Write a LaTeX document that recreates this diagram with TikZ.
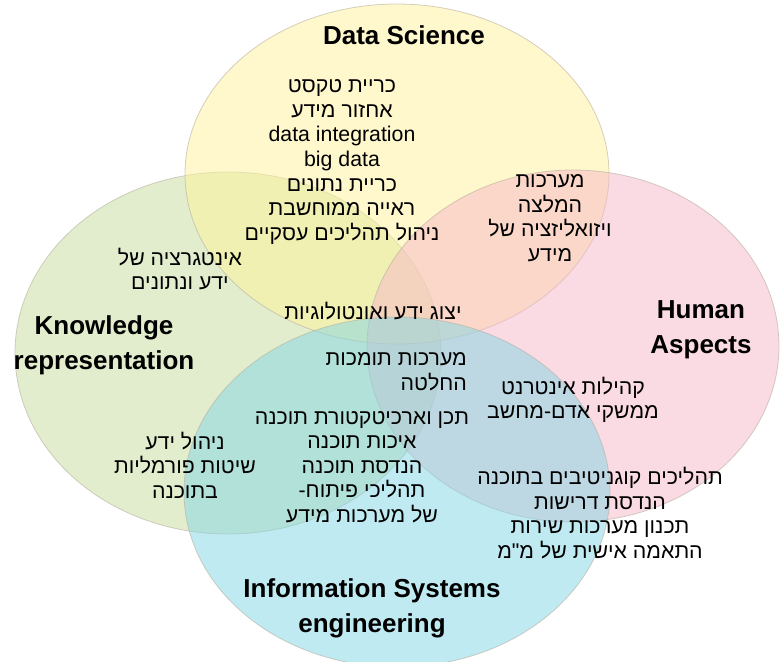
\documentclass[tikz,border=0pt]{standalone}
\usepackage{fontspec}
\setmainfont{Liberation Sans}
\newfontfamily\heb[Script=Hebrew]{Liberation Sans}
\TeXXeTstate=1
\newcommand{\R}[1]{\beginR #1\endR}
\definecolor{cyel}{HTML}{FFF39A}
\definecolor{cgrn}{HTML}{C6DC9F}
\definecolor{cpnk}{HTML}{F6B8C8}
\definecolor{cblu}{HTML}{82D6E4}
\definecolor{cedge}{HTML}{B8B0A0}
\tikzset{
  venn/.style={draw=cedge, draw opacity=0.6, line width=0.8pt, fill opacity=0.5},
  title/.style={font=\bfseries\fontsize{26}{35}\selectfont, align=center, inner sep=0pt},
  item/.style={font=\heb\fontsize{21.3}{24.6}\selectfont, align=center, inner sep=0pt},
  itemr/.style={font=\heb\fontsize{21.3}{24.6}\selectfont, align=right, inner sep=0pt}
}
\begin{document}
\begin{tikzpicture}[x=1pt,y=-1pt]
\useasboundingbox (0,0) rectangle (780,662);
\fill[white] (0,0) rectangle (780,662);
\path[venn, fill=cgrn] (228,353) ellipse [x radius=213pt, y radius=181pt];
\path[venn, fill=cyel] (397,174) ellipse [x radius=212pt, y radius=170pt];
\path[venn, fill=cpnk] (573,346) ellipse [x radius=206pt, y radius=176pt];
\path[venn, fill=cblu] (397,492) ellipse [x radius=213pt, y radius=175pt];

\node[title] (tds) at (404,35) {Data Science};
\node[title] (tkr) at (104,345) {Knowledge\\representation};
\node[title] (tha) at (701,330) {Human\\Aspects};
\node[title] (tis) at (372,608) {Information Systems\\engineering};

\node[item] (ds) at (342,162) {\R{כריית טקסט}\\\R{אחזור מידע}\\data integration\\big data\\\R{כריית נתונים}\\\R{ראייה ממוחשבת}\\\R{ניהול תהליכים עסקיים}};
\node[item] (rec) at (550,218) {\R{מערכות}\\\R{המלצה}\\\R{ויזואליזציה של}\\\R{מידע}};
\node[item] (integ) at (180,269) {\R{אינטגרציה של}\\\R{ידע ונתונים}};
\node[item] (onto) at (373,311) {\R{יצוג ידע ואונטולוגיות}};
\node[itemr, anchor=east] (dss) at (467,372) {\R{מערכות תומכות}\\\R{החלטה}};
\node[item] (hci) at (573,400) {\R{קהילות אינטרנט}\\\R{ממשקי אדם-מחשב}};
\node[item] (km) at (185,465) {\R{ניהול ידע}\\\R{שיטות פורמליות}\\\R{בתוכנה}};
\node[item] (se) at (362,467) {\R{תכן וארכיטקטורת תוכנה}\\\R{איכות תוכנה}\\\R{הנדסת תוכנה}\\\R{תהליכי פיתוח-}\\\R{של מערכות מידע}};
\node[item] (cog) at (600,513) {\R{תהליכים קוגניטיבים בתוכנה}\\\R{הנדסת דרישות}\\\R{תכנון מערכות שירות}\\\R{התאמה אישית של מ"מ}};
\end{tikzpicture}
\end{document}
